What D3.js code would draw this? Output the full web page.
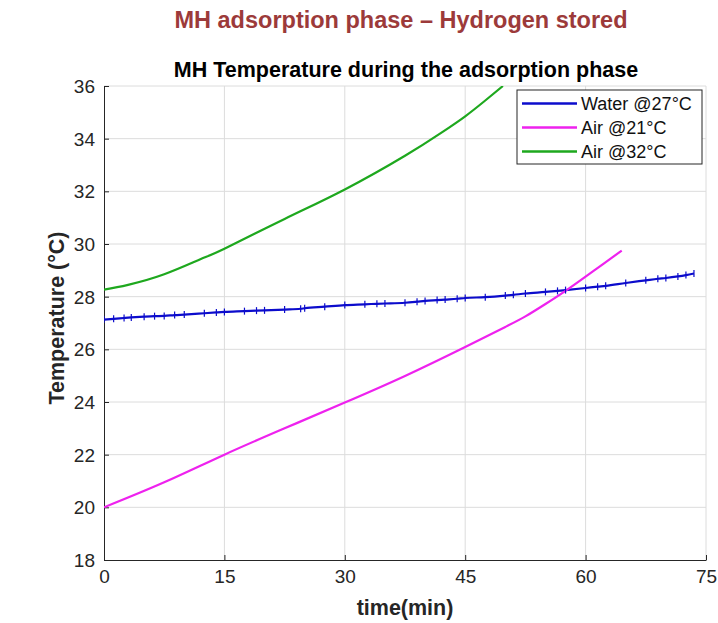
<!DOCTYPE html>
<html>
<head>
<meta charset="utf-8">
<script src="https://cdn.jsdelivr.net/npm/d3@7"></script>
<style>
  html, body { margin: 0; padding: 0; background: #fff; }
  svg text { font-family: "Liberation Sans", Arial, Helvetica, sans-serif; }
</style>
</head>
<body>
<svg id="chart" width="718" height="623"></svg>
<script>
// Temperature of the metal-hydride tank while hydrogen is being absorbed
const xTicks = [0, 15, 30, 45, 60, 75];
const yTicks = [18, 20, 22, 24, 26, 28, 30, 32, 34, 36];

// time in minutes, temperature in °C
const waterTime = [0, 1.2, 2.5, 3.4, 5, 6.3, 7.5, 8.8, 10, 12.5, 14, 15, 17.5, 19, 20, 22.5, 24.5, 25, 27.5, 30, 32.5, 34, 35, 37.5, 39, 40, 41.5, 42.5, 44, 45, 47.5, 50, 51, 52.5, 55, 56.5, 57.5, 60, 61.5, 62.5, 65, 67.5, 69, 70, 71.5, 72.5, 73.5];
const waterTemp = [27.13, 27.16, 27.19, 27.21, 27.24, 27.26, 27.27, 27.3, 27.32, 27.37, 27.4, 27.42, 27.45, 27.47, 27.48, 27.51, 27.54, 27.56, 27.62, 27.68, 27.71, 27.73, 27.74, 27.77, 27.81, 27.84, 27.87, 27.89, 27.92, 27.95, 27.98, 28.04, 28.07, 28.12, 28.18, 28.22, 28.25, 28.33, 28.38, 28.41, 28.52, 28.62, 28.68, 28.71, 28.77, 28.82, 28.88];

const air21Time = [0, 7.5, 15, 22.5, 30, 37.5, 45, 50, 52.5, 55, 57.5, 60, 62, 64.5];
const air21Temp = [20.0, 20.95, 22.0, 23.0, 23.98, 24.99, 26.09, 26.85, 27.25, 27.72, 28.22, 28.76, 29.2, 29.75];

const air32Time = [0, 3, 7.5, 12, 15, 22.5, 30, 37.5, 42, 45, 47.5, 49.7];
const air32Temp = [28.27, 28.45, 28.85, 29.42, 29.82, 30.95, 32.07, 33.35, 34.22, 34.85, 35.45, 36.0];

const seriesNames = ["Water @27°C", "Air @21°C", "Air @32°C"];
const seriesColors = ["#0c0ccc", "#ee22ee", "#1ea81e"];

const svg = d3.select("#chart");
const margin = { left: 104, right: 12, top: 86, bottom: 63 };
const W = 718, H = 623;
const x = d3.scaleLinear().domain([0, 75]).range([margin.left, W - margin.right]);
const y = d3.scaleLinear().domain([18, 36]).range([H - margin.bottom, margin.top]);

// grid
const grid = svg.append("g").attr("stroke", "#dcdcdc").attr("stroke-width", 1);
grid.selectAll(".gx").data(xTicks.slice(1)).join("line")
  .attr("x1", d => x(d)).attr("x2", d => x(d))
  .attr("y1", y(18)).attr("y2", y(36));
grid.selectAll(".gy").data(yTicks.slice(1)).join("line")
  .attr("x1", x(0)).attr("x2", x(75))
  .attr("y1", d => y(d)).attr("y2", d => y(d));

// axes with inward ticks
const axisColor = "#262626";
const gx = svg.append("g").attr("transform", `translate(0,${y(18)})`)
  .call(d3.axisBottom(x).tickValues(xTicks).tickSize(-5).tickPadding(10).tickSizeOuter(0));
const gy = svg.append("g").attr("transform", `translate(${x(0)},0)`)
  .call(d3.axisLeft(y).tickValues(yTicks).tickSize(-5).tickPadding(9).tickSizeOuter(0));
[gx, gy].forEach(g => {
  g.select(".domain").attr("stroke", axisColor).attr("stroke-width", 1);
  g.selectAll(".tick line").attr("stroke", axisColor);
  g.selectAll(".tick text").attr("fill", axisColor).attr("font-size", 19)
    .attr("font-family", "Liberation Sans, Arial, sans-serif");
});
gy.selectAll(".tick text").attr("dy", "0.35em");

// series
svg.append("clipPath").attr("id", "plotClip").append("rect")
  .attr("x", x(0)).attr("y", y(36)).attr("width", x(75) - x(0)).attr("height", y(18) - y(36));

const smoothLine = d3.line().x(d => x(d[0])).y(d => y(d[1])).curve(d3.curveNatural);
const waterLine = d3.line().x(d => x(d[0])).y(d => y(d[1])).curve(d3.curveMonotoneX);
const series = [
  d3.zip(waterTime, waterTemp),
  d3.zip(air21Time, air21Temp),
  d3.zip(air32Time, air32Temp)
];
const plot = svg.append("g").attr("clip-path", "url(#plotClip)");
series.forEach((s, i) => {
  plot.append("path").datum(s).attr("d", i === 0 ? waterLine : smoothLine)
    .attr("fill", "none").attr("stroke", seriesColors[i]).attr("stroke-width", 2.2)
    .attr("stroke-linejoin", "round");
});
// small + markers on the water series samples
plot.selectAll(".wm").data(series[0]).join("path")
  .attr("d", d => `M${x(d[0])},${y(d[1]) - 3.5}V${y(d[1]) + 3.5}`)
  .attr("stroke", seriesColors[0]).attr("stroke-width", 1.2);

// legend
const lg = svg.append("g");
lg.append("rect").attr("x", 517).attr("y", 90).attr("width", 185).attr("height", 74)
  .attr("fill", "#fff").attr("stroke", axisColor).attr("stroke-width", 1);
seriesNames.forEach((name, i) => {
  const yy = 103.5 + i * 24;
  lg.append("line").attr("x1", 522).attr("x2", 577).attr("y1", yy).attr("y2", yy)
    .attr("stroke", seriesColors[i]).attr("stroke-width", 2.5);
  lg.append("text").attr("x", 581).attr("y", yy).attr("dy", "0.36em")
    .attr("font-size", 18).attr("fill", "#111").text(name);
});

// titles and axis labels
svg.append("text").attr("x", 401).attr("y", 28).attr("text-anchor", "middle")
  .attr("font-size", 23.5).attr("font-weight", "bold").attr("fill", "#9c3a3a")
  .text("MH adsorption phase – Hydrogen stored");
svg.append("text").attr("x", 406).attr("y", 77).attr("text-anchor", "middle")
  .attr("font-size", 21.5).attr("font-weight", "bold").attr("fill", "#000")
  .text("MH Temperature during the adsorption phase");
svg.append("text").attr("x", 405).attr("y", 615).attr("text-anchor", "middle")
  .attr("font-size", 21.5).attr("font-weight", "bold").attr("fill", axisColor)
  .text("time(min)");
svg.append("text").attr("transform", `translate(64,${(y(18) + y(36)) / 2 - 5}) rotate(-90)`)
  .attr("text-anchor", "middle")
  .attr("font-size", 21.5).attr("font-weight", "bold").attr("fill", axisColor)
  .text("Temperature (°C)");
</script>
</body>
</html>
